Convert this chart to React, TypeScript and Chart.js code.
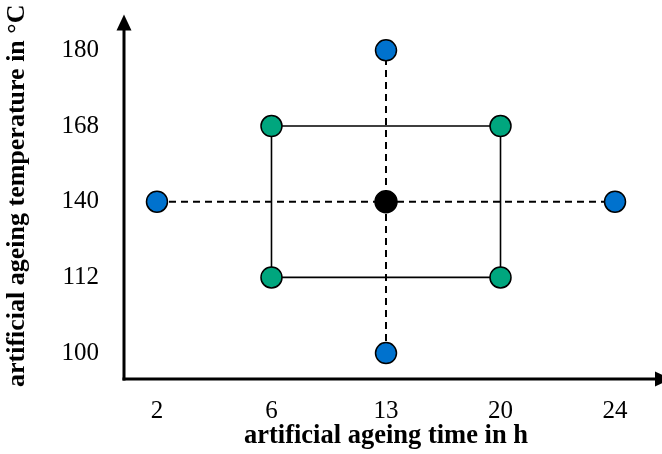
import React, { useEffect, useRef } from 'react';
import { Chart, registerables } from 'chart.js';

Chart.register(...registerables);

// Tick labels (factor levels)
const timeLabels = ['2', '6', '13', '20', '24'];
const tempLabels = ['100', '112', '140', '168', '180'];

// Design points: [time in h, temperature in °C]
const centerPoints = [[13, 140]];
const starPoints = [[2, 140], [24, 140], [13, 180], [13, 100]];
const factorialPoints = [[6, 112], [20, 112], [20, 168], [6, 168]];

// Connecting lines
const horizontalLine = [[2, 140], [24, 140]];
const verticalLine = [[13, 100], [13, 180]];
const factorialFrame = [[6, 112], [20, 112], [20, 168], [6, 168], [6, 112]];

const toXY = (pts: number[][]) =>
  pts.map(([t, T]) => ({ x: timeLabels.indexOf(String(t)), y: tempLabels.indexOf(String(T)) }));

const SERIF = "'Liberation Serif', 'Times New Roman', serif";

const arrowAxes = {
  id: 'arrowAxes',
  beforeDatasetsDraw(chart: any) {
    const { ctx, chartArea } = chart;
    const { left, bottom, top } = chartArea;
    const W = chart.width;
    const tipY = top + 2;
    ctx.save();
    ctx.strokeStyle = '#000';
    ctx.fillStyle = '#000';
    ctx.lineWidth = 3;
    ctx.lineCap = 'butt';
    // y axis
    ctx.beginPath();
    ctx.moveTo(left, bottom + 1.5);
    ctx.lineTo(left, tipY + 14);
    ctx.stroke();
    ctx.beginPath();
    ctx.moveTo(left, tipY);
    ctx.lineTo(left - 7.5, tipY + 16);
    ctx.lineTo(left + 7.5, tipY + 16);
    ctx.closePath();
    ctx.fill();
    // x axis
    ctx.beginPath();
    ctx.moveTo(left - 1.5, bottom);
    ctx.lineTo(W - 6, bottom);
    ctx.stroke();
    ctx.beginPath();
    ctx.moveTo(W + 9, bottom);
    ctx.lineTo(W - 7, bottom - 7.5);
    ctx.lineTo(W - 7, bottom + 7.5);
    ctx.closePath();
    ctx.fill();
    ctx.restore();
  },
};

export default function App() {
  const ref = useRef<HTMLCanvasElement | null>(null);

  useEffect(() => {
    if (!ref.current) return;
    const pointBase = {
      type: 'scatter' as const,
      showLine: false,
      pointRadius: 10.5,
      pointHoverRadius: 10.5,
      pointBorderColor: '#000',
      pointBorderWidth: 1.5,
      order: 0,
    };
    const chart = new Chart(ref.current, {
      type: 'scatter',
      data: {
        datasets: [
          {
            type: 'line',
            data: toXY(horizontalLine),
            borderColor: '#000',
            borderWidth: 2,
            borderDash: [7, 5],
            pointRadius: 0,
            fill: false,
            order: 2,
          } as any,
          {
            type: 'line',
            data: toXY(verticalLine),
            borderColor: '#000',
            borderWidth: 2,
            borderDash: [7, 5],
            pointRadius: 0,
            fill: false,
            order: 2,
          } as any,
          {
            type: 'line',
            data: toXY(factorialFrame),
            borderColor: '#000',
            borderWidth: 1.6,
            pointRadius: 0,
            fill: false,
            tension: 0,
            order: 2,
          } as any,
          { ...pointBase, data: toXY(factorialPoints), pointBackgroundColor: '#00A67E', backgroundColor: '#00A67E' },
          { ...pointBase, data: toXY(starPoints), pointBackgroundColor: '#0072CE', backgroundColor: '#0072CE' },
          { ...pointBase, data: toXY(centerPoints), pointBackgroundColor: '#000', backgroundColor: '#000', pointRadius: 11 },
        ],
      },
      options: {
        responsive: false,
        animation: false,
        events: [],
        layout: { padding: { top: 11, right: 14, left: 0, bottom: 0 } },
        plugins: { legend: { display: false }, tooltip: { enabled: false } },
        scales: {
          x: {
            type: 'linear',
            min: -0.288,
            max: 4.288,
            afterBuildTicks: (s: any) => {
              s.ticks = timeLabels.map((_, i) => ({ value: i }));
            },
            afterFit: (s: any) => {
              s.height = 75;
              s.paddingLeft = 0;
              s.paddingRight = 0;
            },
            grid: { display: false, drawTicks: false },
            border: { display: false },
            ticks: {
              padding: 17,
              color: '#000',
              font: { family: SERIF, size: 25 },
              callback: (v: any) => timeLabels[v] ?? '',
              maxRotation: 0,
              autoSkip: false,
            },
            title: {
              display: true,
              text: 'artificial ageing time in h',
              color: '#000',
              font: { family: SERIF, size: 26.5, weight: 'bold' },
              padding: { top: 0, bottom: 1.5 },
            },
          },
          y: {
            type: 'linear',
            min: -0.342,
            max: 4.5,
            afterBuildTicks: (s: any) => {
              s.ticks = tempLabels.map((_, i) => ({ value: i }));
            },
            afterFit: (s: any) => {
              s.width = 124;
              s.paddingTop = 0;
              s.paddingBottom = 0;
            },
            grid: { display: false, drawTicks: false },
            border: { display: false },
            ticks: {
              padding: 25,
              color: '#000',
              font: { family: SERIF, size: 25 },
              callback: (v: any) => tempLabels[v] ?? '',
              autoSkip: false,
            },
            title: {
              display: true,
              text: 'artificial ageing temperature in °C',
              color: '#000',
              font: { family: SERIF, size: 26, weight: 'bold' },
              padding: { top: 1.5, bottom: 0 },
            },
          },
        },
      },
      plugins: [arrowAxes],
    });
    return () => chart.destroy();
  }, []);

  return (
    <div style={{ position: 'absolute', left: 0, top: 0, width: 662, height: 454, background: '#fff' }}>
      <canvas ref={ref} width={662} height={454} />
    </div>
  );
}
